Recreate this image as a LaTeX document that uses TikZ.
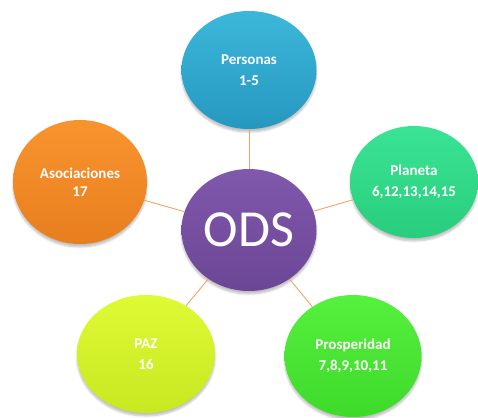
\documentclass[tikz,border=0pt]{standalone}
\usepackage{fontspec}
\setmainfont{Carlito}
\usetikzlibrary{shapes.geometric,shadows.blur}
\definecolor{linkc}{HTML}{F4A261}
\tikzset{
  goal/.style={ellipse, inner sep=0pt, text=white, align=center,
    font=\fontsize{15}{21}\selectfont\bfseries,
    blur shadow={shadow xshift=0pt, shadow yshift=-3pt, shadow opacity=25, shadow blur steps=6}},
  link/.style={draw=linkc, line width=0.9pt}
}
\begin{document}
\begin{tikzpicture}[x=1pt,y=-1pt]
\useasboundingbox (0,0) rectangle (478,417);
\node[goal, minimum width=135pt, minimum height=118pt, top color={rgb,255:red,60;green,183;blue,218}, bottom color={rgb,255:red,38;green,152;blue,192}] (pers) at (249,70) {Personas\\1-5};
\node[goal, minimum width=135pt, minimum height=122pt, top color={rgb,255:red,128;green,88;blue,172}, bottom color={rgb,255:red,108;green,70;blue,150}, font=\fontsize{52}{52}\selectfont] (ods) at (249,230) {ODS};
\node[goal, minimum width=134pt, minimum height=124pt, top color={rgb,255:red,248;green,148;blue,46}, bottom color={rgb,255:red,232;green,126;blue,30}, font=\fontsize{15}{18}\selectfont\bfseries] (asoc) at (80,182) {Asociaciones\\17};
\node[goal, minimum width=128pt, minimum height=112pt, top color={rgb,255:red,58;green,228;blue,148}, bottom color={rgb,255:red,40;green,205;blue,125}] (plan) at (414,182) {Planeta\\6,12,13,14,15};
\node[goal, minimum width=138pt, minimum height=118pt, top color={rgb,255:red,222;green,250;blue,52}, bottom color={rgb,255:red,200;green,232;blue,34}] (paz) at (146,354) {PAZ\\16};
\node[goal, minimum width=137pt, minimum height=122pt, top color={rgb,255:red,86;green,240;blue,62}, bottom color={rgb,255:red,62;green,218;blue,42}] (pros) at (353,356) {Prosperidad\\7,8,9,10,11};
\draw[link] (ods) -- (pers);
\draw[link] (ods) -- (asoc);
\draw[link] (ods) -- (plan);
\draw[link] (ods) -- (paz);
\draw[link] (ods) -- (pros);
\end{tikzpicture}
\end{document}
